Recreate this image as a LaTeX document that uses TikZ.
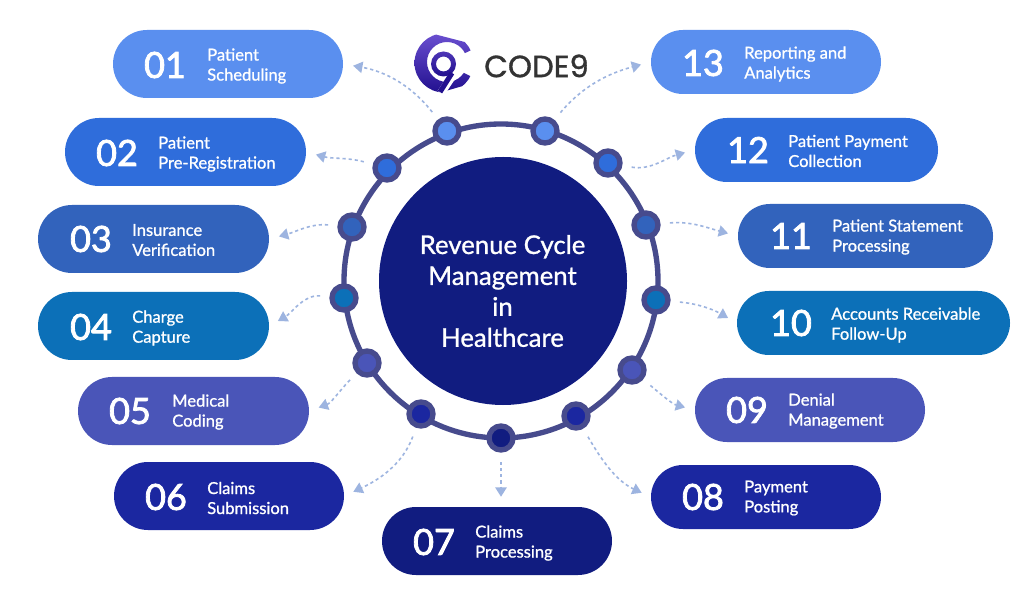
\documentclass[tikz,border=0pt]{standalone}
\usepackage{fontspec}
\usetikzlibrary{arrows.meta}
\setmainfont{Lato}[FakeBold=1]
\newfontfamily\numfont{Lato}[FakeBold=2.2]
\newfontfamily\logofont{Poppins}[FakeBold=1]
\definecolor{cA}{HTML}{5A8FEF}
\definecolor{cB}{HTML}{2F6DDB}
\definecolor{cC}{HTML}{3263BC}
\definecolor{cD}{HTML}{0C70B8}
\definecolor{cE}{HTML}{4A55B8}
\definecolor{cF}{HTML}{1B27A0}
\definecolor{cG}{HTML}{111C80}
\definecolor{ringc}{HTML}{474B8D}
\definecolor{flowc}{HTML}{9DB4E0}
\definecolor{logoa}{HTML}{6A4FD0}
\definecolor{logob}{HTML}{22108F}
\tikzset{
  x=0.75pt,y=-0.75pt,
  stepnode/.style={circle,draw=ringc,line width=4pt,minimum size=18pt,inner sep=0pt},
  num/.style={text=white,font=\numfont\fontsize{27}{27}\selectfont,inner sep=0pt},
  lab/.style={text=white,anchor=west,align=left,inner sep=0pt,yshift=-1.5pt,font=\fontsize{12.4}{15}\selectfont},
  flow/.style={draw=flowc,line width=1.2pt,dash pattern=on 2.4pt off 2.2pt,
     -{Triangle[width=8.5pt,length=7pt,color=flowc]},shorten <=7pt,shorten >=7.5pt},
}
\newcommand{\pill}[6]{% name x0 y0 x1 y1 colour
  \pgfmathsetmacro{\rr}{(#5-#3)/2*0.75}
  \node[fill=#6,rounded corners=\rr pt,inner sep=0pt,minimum width={(#4-#2)*0.75pt},minimum height={(#5-#3)*0.75pt}] (#1) at ({(#2+#4)/2},{(#3+#5)/2}) {};
}
\begin{document}
\begin{tikzpicture}
\useasboundingbox (0,0) rectangle (1024,598);
\fill[white] (0,0) rectangle (1024,598);

% pills
\pill{p01}{113}{30}{343}{98}{cA}
\pill{p02}{65}{118}{306}{186}{cB}
\pill{p03}{38}{205}{269}{273}{cC}
\pill{p04}{38}{292}{269}{360}{cD}
\pill{p05}{78}{377}{309}{445}{cE}
\pill{p06}{114}{462}{344}{530}{cF}
\pill{p07}{382}{507}{612}{575}{cG}
\pill{p08}{651}{465}{881}{529}{cF}
\pill{p09}{695}{378}{925}{442}{cE}
\pill{p10}{737}{291}{1010}{355}{cD}
\pill{p11}{738}{204}{993}{268}{cC}
\pill{p12}{695}{118}{938}{182}{cB}
\pill{p13}{651}{30}{881}{94}{cA}

% numbers
\node[num] (t01) at (165,65) {01};
\node[num] (t02) at (117,153) {02};
\node[num] (t03) at (91,239) {03};
\node[num] (t04) at (91,327) {04};
\node[num] (t05) at (130,411) {05};
\node[num] (t06) at (166,497) {06};
\node[num] (t07) at (434,542) {07};
\node[num] (t08) at (703,497) {08};
\node[num] (t09) at (747,410) {09};
\node[num] (t10) at (791,323) {10};
\node[num] (t11) at (791,236) {11};
\node[num] (t12) at (748,150) {12};
\node[num] (t13) at (703,63) {13};

% labels
\node[lab] (l01) at (207,64) {Patient\\Scheduling};
\node[lab] (l02) at (158,152) {Patient\\Pre-Registration};
\node[lab] (l03) at (132,238) {Insurance\\Verification};
\node[lab] (l04) at (132,326) {Charge\\Capture};
\node[lab] (l05) at (172,410) {Medical\\Coding};
\node[lab] (l06) at (207,496) {Claims\\Submission};
\node[lab] (l07) at (475,541) {Claims\\Processing};
\node[lab] (l08) at (744,496) {Payment\\Posting};
\node[lab] (l09) at (788,409) {Denial\\Management};
\node[lab] (l10) at (831,323) {Accounts Receivable\\Follow-Up};
\node[lab] (l11) at (832,235) {Patient Statement\\Processing};
\node[lab] (l12) at (788,149) {Patient Payment\\Collection};
\node[lab] (l13) at (744,62) {Reporting and\\Analytics};

% ring
\draw[ringc,line width=4pt] (501,281) circle[radius=157];
\node[circle,fill=cG,minimum size=186pt,inner sep=0pt] (hub) at (503,281) {};
\node[text=white,align=center,inner sep=0pt,font=\fontsize{19.3}{23.2}\selectfont] (hubtext) at (502.5,291) {Revenue Cycle\\Management\\in\\Healthcare};

% ring nodes
\node[stepnode,fill=cA] (n01) at (447,131) {};
\node[stepnode,fill=cB] (n02) at (387,168) {};
\node[stepnode,fill=cC] (n03) at (352,227) {};
\node[stepnode,fill=cD] (n04) at (344,298) {};
\node[stepnode,fill=cE] (n05) at (367,363) {};
\node[stepnode,fill=cF] (n06) at (421,414) {};
\node[stepnode,fill=cG] (n07) at (501,438) {};
\node[stepnode,fill=cF] (n08) at (576,416) {};
\node[stepnode,fill=cE] (n09) at (632,370) {};
\node[stepnode,fill=cD] (n10) at (656,300) {};
\node[stepnode,fill=cC] (n11) at (646,225) {};
\node[stepnode,fill=cB] (n12) at (608,163) {};
\node[stepnode,fill=cA] (n13) at (545,131) {};

% connectors
\draw[flow] (n01) to[out=128,in=-10] (p01.east);
\draw[flow] (n02) to[out=165,in=-15] (p02.east);
\draw[flow] (n03) to[out=175,in=15] (p03.east);
\draw[flow] (n04) to[out=175,in=30] (p04.east);
\draw[flow] (n05) to[out=225,in=20] (p05.east);
\draw[flow] (n06) to[out=250,in=25] (p06.east);
\draw[flow] (n07) -- (n07.south |- p07.north);
\draw[flow] (n08) to[out=-60,in=155] (p08.west);
\draw[flow] (n09) to[out=-40,in=165] (p09.west);
\draw[flow] (n10) to[out=-5,in=150] (p10.west);
\draw[flow] (n11) to[out=5,in=165] (p11.west);
\draw[flow] (n12) to[out=-10,in=195] (p12.west);
\draw[flow] (n13) to[out=50,in=195] (p13.west);

% logo
\node[text=black!80,font=\logofont\fontsize{23}{23}\selectfont,anchor=west,inner sep=0pt] (logotext) at (484,66) {CODE9};
\begin{scope}
\clip (444,63) -- (480,46) -- (380,20) -- (380,110) -- (480,81) -- cycle;
\path[top color=logoa,bottom color=logob,even odd rule] (444,63) circle[radius=29.5] (447,62) circle[radius=20];
\end{scope}
\draw[white,line width=6pt] (455,72) -- (441,93);
\path[top color=logoa!60!logob,bottom color=logob,even odd rule] (443.5,64) circle[radius=12.5] (443.5,64) circle[radius=7.5];
\draw[logob,line width=3.8pt] (452,73) -- (440,92);
\end{tikzpicture}
\end{document}
